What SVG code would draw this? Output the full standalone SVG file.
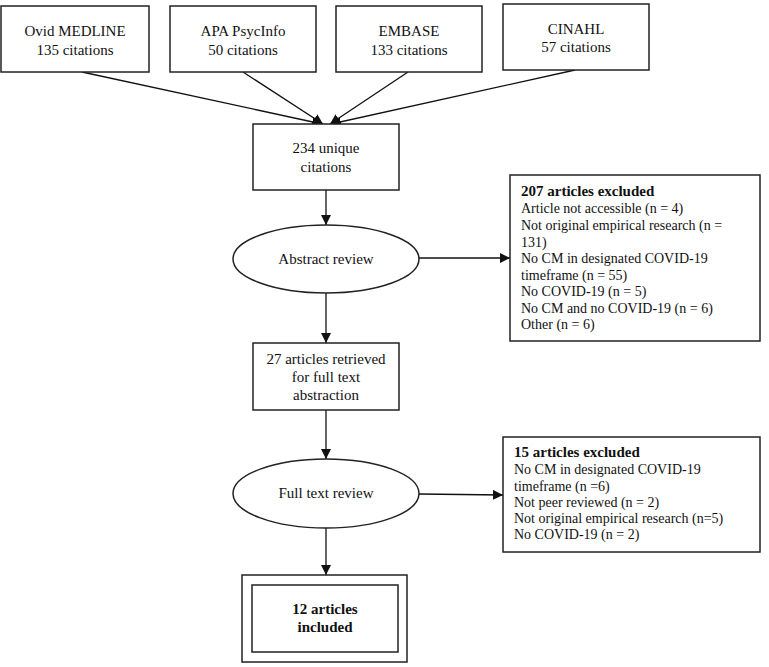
<svg xmlns="http://www.w3.org/2000/svg" width="769" height="667" viewBox="0 0 769 667">
<style>
.box{fill:#fff;stroke:#222;stroke-width:1.5}
.t{font-family:"Liberation Serif","Times New Roman",serif;font-size:15px;fill:#111}
.s{font-size:14px}
.c{text-anchor:middle}
.b{font-weight:bold}
.ln{stroke:#111;stroke-width:1.3;fill:none}
</style>
<defs>
<marker id="ah" viewBox="0 0 10 10" refX="10" refY="5" markerWidth="10" markerHeight="10" markerUnits="userSpaceOnUse" orient="auto">
<path d="M0,0 L10,5 L0,10 z" fill="#111"/>
</marker>
</defs>
<rect width="769" height="667" fill="#fff"/>
<g id="connectors">
<line class="ln" x1="82" y1="72" x2="322" y2="124" marker-end="url(#ah)"/>
<line class="ln" x1="243" y1="72" x2="323" y2="124" marker-end="url(#ah)"/>
<line class="ln" x1="408" y1="72" x2="330" y2="124" marker-end="url(#ah)"/>
<line class="ln" x1="575" y1="70" x2="331" y2="124" marker-end="url(#ah)"/>
<line class="ln" x1="326" y1="190" x2="326" y2="225" marker-end="url(#ah)"/>
<line class="ln" x1="419" y1="258" x2="510" y2="258" marker-end="url(#ah)"/>
<line class="ln" x1="326" y1="293" x2="326" y2="343" marker-end="url(#ah)"/>
<line class="ln" x1="326" y1="410" x2="326" y2="459" marker-end="url(#ah)"/>
<line class="ln" x1="419" y1="494" x2="503" y2="495" marker-end="url(#ah)"/>
<line class="ln" x1="326" y1="528" x2="326" y2="575" marker-end="url(#ah)"/>
</g>
<g id="ovid">
<rect class="box" x="1" y="6" width="148" height="66"/>
<text class="t c" x="75" y="36">Ovid MEDLINE</text>
<text class="t c" x="75" y="55">135 citations</text>
</g>
<g id="apa">
<rect class="box" x="170" y="6" width="146" height="66"/>
<text class="t c" x="243" y="36">APA PsycInfo</text>
<text class="t c" x="243" y="55">50 citations</text>
</g>
<g id="embase">
<rect class="box" x="336" y="6" width="146" height="66"/>
<text class="t c" x="409" y="36">EMBASE</text>
<text class="t c" x="409" y="55">133 citations</text>
</g>
<g id="cinahl">
<rect class="box" x="503" y="4" width="146" height="66"/>
<text class="t c" x="576" y="34">CINAHL</text>
<text class="t c" x="576" y="52">57 citations</text>
</g>
<g id="unique">
<rect class="box" x="253" y="124" width="146" height="66"/>
<text class="t c" x="326" y="153">234 unique</text>
<text class="t c" x="326" y="172">citations</text>
</g>
<g id="abstract">
<ellipse class="box" cx="326" cy="259" rx="93" ry="34"/>
<text class="t c" x="326" y="264">Abstract review</text>
</g>
<g id="excluded1">
<rect class="box" x="510" y="175" width="250" height="166"/>
<text class="t b" x="521" y="196">207 articles excluded</text>
<text class="t s" x="521" y="213">Article not accessible (n = 4)</text>
<text class="t s" x="521" y="230">Not original empirical research (n =</text>
<text class="t s" x="521" y="246.5">131)</text>
<text class="t s" x="521" y="263">No CM in designated COVID-19</text>
<text class="t s" x="521" y="279.5">timeframe (n = 55)</text>
<text class="t s" x="521" y="296">No COVID-19 (n = 5)</text>
<text class="t s" x="521" y="312.5">No CM and no COVID-19 (n = 6)</text>
<text class="t s" x="521" y="329">Other (n = 6)</text>
</g>
<g id="retrieved">
<rect class="box" x="253" y="343" width="146" height="67"/>
<text class="t c" x="326" y="364">27 articles retrieved</text>
<text class="t c" x="326" y="382">for full text</text>
<text class="t c" x="326" y="400">abstraction</text>
</g>
<g id="fulltext">
<ellipse class="box" cx="326" cy="493.5" rx="93" ry="34.5"/>
<text class="t c" x="326" y="498">Full text review</text>
</g>
<g id="excluded2">
<rect class="box" x="503" y="437" width="257" height="115"/>
<text class="t b" x="514" y="457">15 articles excluded</text>
<text class="t s" x="514" y="474">No CM in designated COVID-19</text>
<text class="t s" x="514" y="490.5">timeframe (n =6)</text>
<text class="t s" x="514" y="507">Not peer reviewed (n = 2)</text>
<text class="t s" x="514" y="523">Not original empirical research (n=5)</text>
<text class="t s" x="514" y="539">No COVID-19 (n = 2)</text>
</g>
<g id="included">
<rect class="box" x="242" y="575" width="165" height="87"/>
<rect class="box" x="252" y="585" width="146" height="67"/>
<text class="t c b" x="325" y="614">12 articles</text>
<text class="t c b" x="325" y="632">included</text>
</g>
</svg>
